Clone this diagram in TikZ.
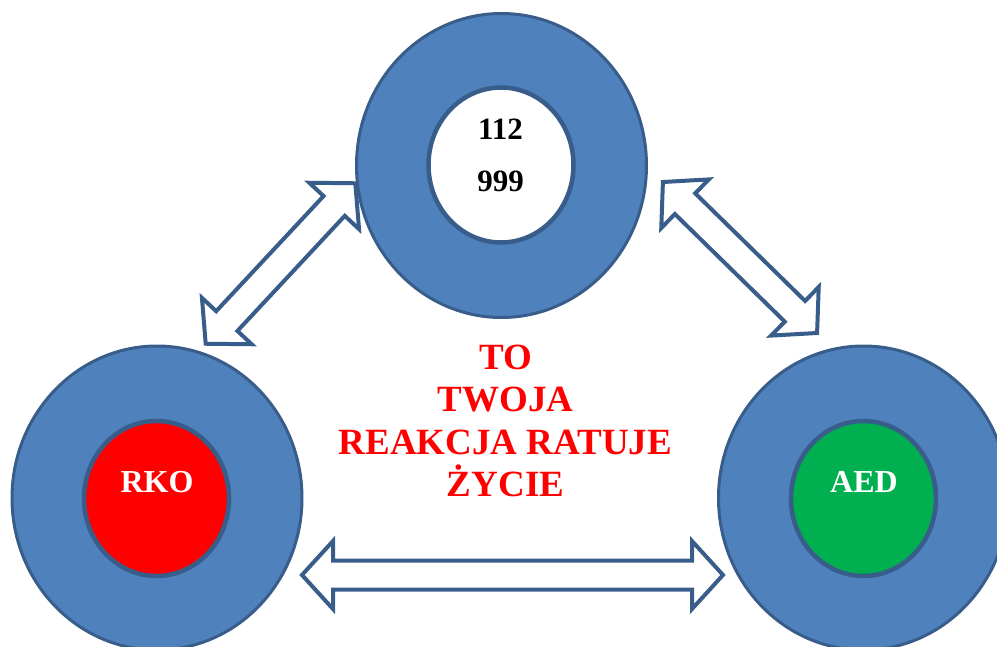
\documentclass[tikz,border=0pt]{standalone}
\usepackage{fontspec}
\setmainfont{Liberation Serif}
\usetikzlibrary{shapes.geometric}
\definecolor{ringblue}{HTML}{4F81BD}
\definecolor{edgeblue}{HTML}{385D8A}
\definecolor{aedgreen}{HTML}{00B050}
\tikzset{
  outerring/.style={ellipse, draw=edgeblue, fill=ringblue, line width=3pt, inner sep=0pt, minimum width=290, minimum height=304},
  innerdisc/.style={ellipse, draw=edgeblue, line width=4.5pt, inner sep=0pt, minimum width=145, minimum height=155},
  blockarr/.style={draw=edgeblue, fill=white, line width=4pt, line join=miter},
  numtext/.style={font=\bfseries\fontsize{31}{52}\selectfont, align=center, inner sep=0pt},
  discl/.style={font=\bfseries\fontsize{32}{38}\selectfont, text=white, inner sep=0pt},
  slogan/.style={font=\bfseries\fontsize{37}{42.5}\selectfont, text=red, align=center, inner sep=0pt}
}
\newcommand{\dblarr}[4]{%
  \begin{scope}[shift={(#1,#2)},rotate=#3]
    \draw[blockarr] (-#4,0) -- (-#4+31,34) -- (-#4+31,14.5) -- (#4-31,14.5) -- (#4-31,34)
      -- (#4,0) -- (#4-31,-34) -- (#4-31,-14.5) -- (-#4+31,-14.5) -- (-#4+31,-34) -- cycle;
  \end{scope}}
\begin{document}
\begin{tikzpicture}[x=1pt,y=-1pt]
\useasboundingbox (0,0) rectangle (997,646);
\clip (0,0) rectangle (997,646);
% circles
\node[outerring] (topring) at (501.5,165.5) {};
\node[innerdisc, fill=white] (topdisc) at (501,165) {};
\node[outerring] (leftring) at (157,498) {};
\node[innerdisc, fill=red] (leftdisc) at (156.5,498.5) {};
\node[outerring] (rightring) at (863.5,498) {};
\node[innerdisc, fill=aedgreen] (rightdisc) at (863.5,498.5) {};
% labels
\node[numtext] (nums) at (500.5,155) {112\\999};
\node[discl] (rko) at (157,482) {RKO};
\node[discl] (aed) at (864,482) {AED};
\node[slogan] (motto) at (505.5,421) {TO\\TWOJA\\REAKCJA RATUJE\\ŻYCIE};
% double block arrows
\dblarr{280.5}{263.5}{47}{109.7}
\dblarr{740}{257.5}{-44.4}{107.9}
\dblarr{512.5}{575}{0}{210.5}
\end{tikzpicture}
\end{document}
